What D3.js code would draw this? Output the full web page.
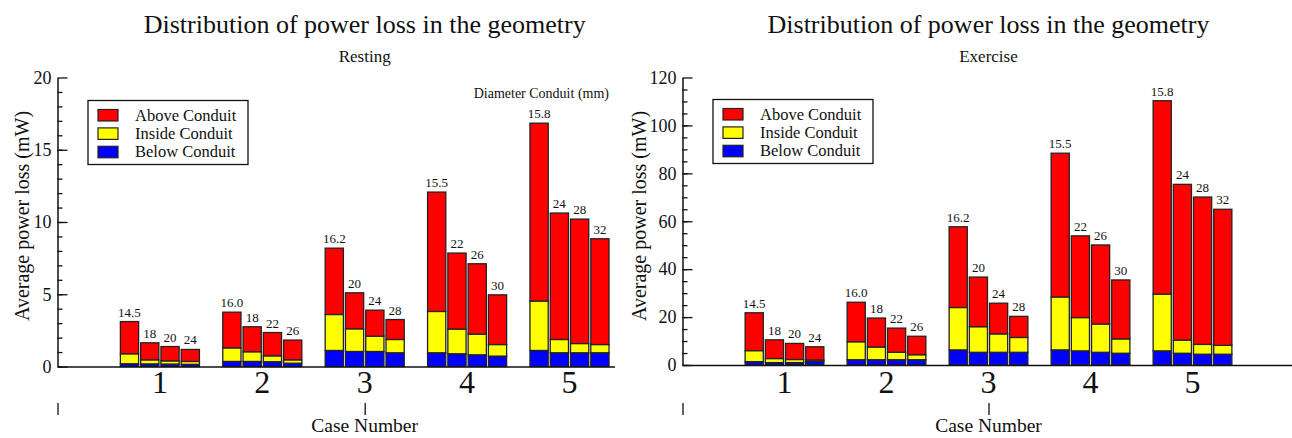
<!DOCTYPE html>
<html>
<head>
<meta charset="utf-8">
<script src="https://cdn.jsdelivr.net/npm/d3@7"></script>
<style>
body { margin: 0; background: #fff; }
svg text { font-family: "Liberation Serif", "Times New Roman", serif; fill: #111; }
</style>
</head>
<body>
<svg width="1292" height="438"></svg>
<script>
let svg = d3.select("svg");

//Case numbers on the x axis
let cases = [1, 2, 3, 4, 5];
//Conduit diameter (mm) printed over every bar, per case
let diameters = [
    ["14.5", "18", "20", "24"],
    ["16.0", "18", "22", "26"],
    ["16.2", "20", "24", "28"],
    ["15.5", "22", "26", "30"],
    ["15.8", "24", "28", "32"]
];
//Stack order, bottom to top
let seriesKeys = ["below", "inside", "above"];
let legendKeys = ["above", "inside", "below"];
let legendNames = ["Above Conduit", "Inside Conduit", "Below Conduit"];

//Resting: power loss (mW) per region, one row per case
let restBelow = [
    [0.19, 0.18, 0.17, 0.15],
    [0.35, 0.35, 0.33, 0.23],
    [1.11, 1.04, 1.04, 0.95],
    [0.95, 0.88, 0.81, 0.72],
    [1.11, 0.95, 0.95, 0.95]
];
let restInside = [
    [0.69, 0.28, 0.22, 0.20],
    [0.94, 0.67, 0.41, 0.23],
    [2.49, 1.57, 1.06, 0.92],
    [2.86, 1.71, 1.43, 0.80],
    [3.42, 0.92, 0.64, 0.57]
];
let restAbove = [
    [2.23, 1.18, 0.99, 0.83],
    [2.47, 1.73, 1.61, 1.37],
    [4.59, 2.49, 1.80, 1.38],
    [8.26, 5.26, 4.87, 3.44],
    [12.31, 8.75, 8.61, 7.32]
];
let restTicks = [0, 5, 10, 15, 20];

//Exercise: power loss (mW) per region, one row per case
let exBelow = [
    [1.4, 1.0, 1.0, 1.5],
    [2.2, 2.2, 2.2, 2.2],
    [6.3, 5.3, 5.3, 5.3],
    [6.3, 5.9, 5.3, 4.9],
    [5.9, 4.9, 4.5, 4.5]
];
let exInside = [
    [4.6, 1.7, 1.3, 0.6],
    [7.5, 5.3, 3.1, 2.1],
    [17.7, 10.7, 7.7, 6.2],
    [22.1, 13.9, 11.8, 6.0],
    [23.7, 5.5, 4.1, 3.7]
];
let exAbove = [
    [15.8, 7.8, 6.7, 5.5],
    [16.5, 12.1, 10.1, 7.7],
    [33.7, 20.7, 12.8, 8.8],
    [60.0, 34.1, 33.0, 24.6],
    [80.7, 65.0, 61.5, 56.8]
];
let exTicks = [0, 20, 40, 60, 80, 100, 120];

let colorOf = {above: "#ff0000", inside: "#ffff00", below: "#0000ff"};
let barStroke = "#222";

/**
* Flattens the per-case arrays into one row per bar.
*/
function buildBars(below, inside, above){
    let rows = [];
    cases.forEach((c, i)=>{
        diameters[i].forEach((d, j)=>{
            rows.push({caseNo: c, slot: j, label: d,
                       below: below[i][j], inside: inside[i][j], above: above[i][j]});
        });
    });
    return rows;
}

function styleAxis(sel, size){
    sel.attr("font-family", null)
       .attr("font-size", size)
       .attr("color", "#111");
    sel.select(".domain").attr("stroke-width", 1.5);
    sel.selectAll(".tick line").attr("stroke-width", 1.3);
}

function drawPanel(p){
    let x = d3.scaleLinear().domain([0, p.xMax]).range([p.left, p.left + p.xMax * p.unit]);
    let y = d3.scaleLinear().domain([0, p.yMax]).range([p.bottom, p.top]);
    let g = svg.append("g").attr("class", "panel");

    let rows = buildBars(p.below, p.inside, p.above);
    let stacked = d3.stack().keys(seriesKeys)(rows);
    let pitch = 0.198, barW = 0.178;
    let barX = d => x(d.caseNo + (d.slot - 1.5) * pitch - barW / 2);
    let wPx = x(barW) - x(0);

    //Stacked bars
    g.append("g").attr("class", "bars")
        .selectAll("g").data(stacked).join("g")
            .attr("fill", s => colorOf[s.key])
        .selectAll("rect").data(s => s).join("rect")
            .attr("x", d => barX(d.data))
            .attr("y", d => y(d[1]))
            .attr("width", wPx)
            .attr("height", d => y(d[0]) - y(d[1]))
            .attr("stroke", barStroke)
            .attr("stroke-width", 1.3);

    //Diameter labels over bars
    g.append("g").attr("class", "barLabels")
        .selectAll("text").data(rows).join("text")
            .attr("x", d => barX(d) + wPx / 2)
            .attr("y", d => y(d.below + d.inside + d.above) - 5)
            .attr("text-anchor", "middle")
            .attr("font-size", 13)
            .text(d => d.label);

    //Y axis, major ticks inward
    g.append("g")
        .attr("transform", `translate(${p.left},0)`)
        .call(d3.axisLeft(y).tickValues(p.ticks).tickSizeInner(-10).tickSizeOuter(0).tickPadding(6))
        .call(sel => styleAxis(sel, 18));

    //Y axis minor ticks
    g.append("g")
        .attr("transform", `translate(${p.left},0)`)
        .call(d3.axisLeft(y).tickValues(d3.range(0, p.yMax, p.minor)).tickSize(-5).tickFormat(""))
        .call(sel => { styleAxis(sel, 10); sel.select(".domain").remove(); });

    //X axis baseline
    g.append("g")
        .attr("transform", `translate(0,${p.bottom})`)
        .call(d3.axisBottom(x).tickValues([]).tickSizeOuter(0))
        .call(sel => styleAxis(sel, 10));

    //Case numbers
    g.append("g").attr("class", "caseLabels")
        .selectAll("text").data(cases).join("text")
            .attr("x", d => x(d))
            .attr("y", 393)
            .attr("text-anchor", "middle")
            .attr("font-size", 32)
            .text(d => d);

    //Stray second axis marks below
    g.append("g")
        .attr("transform", "translate(0,403)")
        .call(d3.axisBottom(x).tickValues([0, 3]).tickSize(12).tickFormat(""))
        .call(sel => { styleAxis(sel, 10); sel.select(".domain").remove(); });

    g.append("text")
        .attr("x", x(3)).attr("y", 432)
        .attr("text-anchor", "middle")
        .attr("font-size", 19.5)
        .text("Case Number");

    g.append("text")
        .attr("transform", `translate(${p.yTitleX},216) rotate(-90)`)
        .attr("text-anchor", "middle")
        .attr("font-size", 20)
        .text("Average power loss (mW)");

    //Titles
    g.append("text")
        .attr("x", x(3)).attr("y", 33)
        .attr("text-anchor", "middle")
        .attr("font-size", 26)
        .text("Distribution of power loss in the geometry");
    g.append("text")
        .attr("x", x(3)).attr("y", 62)
        .attr("text-anchor", "middle")
        .attr("font-size", 17)
        .text(p.subtitle);

    if(p.diamNote){
        let last = rows[rows.length - 1];
        g.append("text")
            .attr("x", barX(last) + wPx).attr("y", 98)
            .attr("text-anchor", "end")
            .attr("font-size", 14)
            .text("Diameter Conduit (mm)");
    }

    //Legend
    let leg = g.append("g").attr("transform", `translate(${p.legX},${p.legY})`);
    leg.append("rect")
        .attr("width", 160).attr("height", 64)
        .attr("fill", "#fff").attr("stroke", "#111").attr("stroke-width", 1.3);
    let items = leg.selectAll("g.item").data(legendKeys).join("g")
        .attr("class", "item")
        .attr("transform", (d, i) => `translate(0,${i * 18.4})`);
    items.append("rect")
        .attr("x", 10).attr("y", 9)
        .attr("width", 20).attr("height", 11.5)
        .attr("fill", d => colorOf[d])
        .attr("stroke", barStroke).attr("stroke-width", 1.2);
    items.append("text")
        .attr("x", 47).attr("y", 20)
        .attr("font-size", 16.5)
        .text((d, i) => legendNames[i]);
}

drawPanel({
    below: restBelow, inside: restInside, above: restAbove,
    ticks: restTicks, yMax: 20, minor: 1,
    left: 57.5, unit: 102.4, xMax: 5.44,
    top: 77.5, bottom: 366.5,
    subtitle: "Resting", diamNote: true,
    yTitleX: 29, legX: 88, legY: 100.5
});

drawPanel({
    below: exBelow, inside: exInside, above: exAbove,
    ticks: exTicks, yMax: 120, minor: 5,
    left: 682.5, unit: 102.0, xMax: 6,
    top: 77.5, bottom: 365,
    subtitle: "Exercise", diamNote: false,
    yTitleX: 646, legX: 713, legY: 99.5
});
</script>
</body>
</html>
